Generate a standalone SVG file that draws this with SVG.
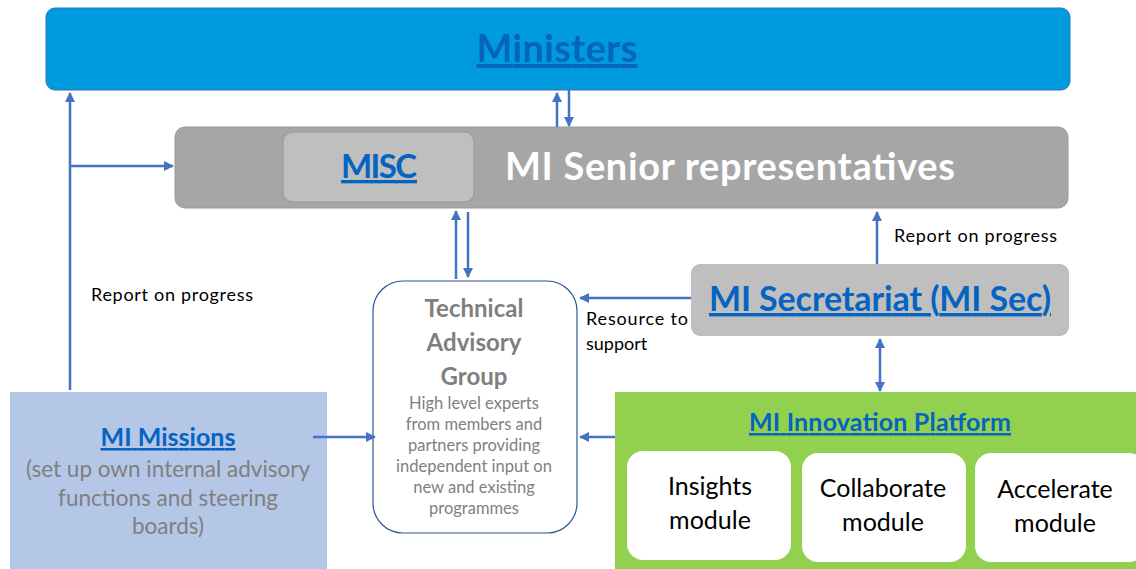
<svg xmlns="http://www.w3.org/2000/svg" width="1136" height="569" viewBox="0 0 1136 569">
<defs>
<marker id="ah" viewBox="0 0 10 10" refX="9" refY="5" markerWidth="4" markerHeight="4" orient="auto-start-reverse" markerUnits="strokeWidth">
<path d="M0,0 L10,5 L0,10 Z" fill="#4472C4"/>
</marker>
<style>
text{font-family:Lato,"Open Sans","Liberation Sans",sans-serif}
.conn{stroke:#4472C4;stroke-width:2.5;fill:none}
.link{fill:#0563C1;font-weight:bold;text-decoration:underline;text-anchor:middle}
.lbl{fill:#000;font-size:18px}
.gray{fill:#7F7F7F;text-anchor:middle}
.mod{fill:#000;font-size:25px;text-anchor:middle}
</style>
</defs>
<rect width="1136" height="569" fill="#fff"/>
<g id="ministers">
<rect x="46" y="8" width="1024" height="82" rx="9" fill="#009ADE" stroke="#2E75B6" stroke-width="1"/>
<text class="link" x="557" y="62" font-size="38" textLength="161">Ministers</text>
</g>
<g id="senior">
<rect x="175" y="127" width="893" height="81" rx="10" fill="#A6A6A6" stroke="#999" stroke-width="1"/>
<text x="505" y="180" font-size="38" font-weight="bold" fill="#fff" textLength="450">MI Senior representatives</text>
</g>
<g id="misc">
<rect x="283" y="132" width="191" height="70" rx="10" fill="#BFBFBF" stroke="#999" stroke-width="1"/>
<text class="link" x="379" y="178" font-size="33" textLength="76">MISC</text>
</g>
<g id="tag">
<rect x="373" y="281" width="204" height="252" rx="30" fill="#fff" stroke="#2F5597" stroke-width="1.2"/>
<text class="gray" x="474" y="317" font-size="24" font-weight="bold">Technical</text>
<text class="gray" x="474" y="351" font-size="24" font-weight="bold">Advisory</text>
<text class="gray" x="474" y="385" font-size="24" font-weight="bold">Group</text>
<text class="gray" x="474" y="409" font-size="16.5">High level experts</text>
<text class="gray" x="474" y="430" font-size="16.5">from members and</text>
<text class="gray" x="474" y="451" font-size="16.5">partners providing</text>
<text class="gray" x="474" y="472" font-size="16.5">independent input on</text>
<text class="gray" x="474" y="493" font-size="16.5">new and existing</text>
<text class="gray" x="474" y="514" font-size="16.5">programmes</text>
</g>
<g id="secretariat">
<rect x="691" y="264" width="378" height="72" rx="9" fill="#BFBFBF"/>
<text class="link" x="880" y="311" font-size="34" textLength="342">MI Secretariat (MI Sec)</text>
</g>
<g id="missions">
<rect x="10" y="392" width="317" height="177" fill="#B4C7E7"/>
<text class="link" x="168" y="446" font-size="25" textLength="135">MI Missions</text>
<text class="gray" x="168" y="477" font-size="22.5">(set up own internal advisory</text>
<text class="gray" x="168" y="506" font-size="22.5">functions and steering</text>
<text class="gray" x="168" y="534" font-size="22.5">boards)</text>
</g>
<g id="platform">
<rect x="615" y="392" width="521" height="177" fill="#92D050"/>
<text class="link" x="880" y="431" font-size="25" textLength="262">MI Innovation Platform</text>
</g>
<g id="insights">
<rect x="627" y="451" width="164" height="109" rx="16" fill="#fff"/>
<text class="mod" x="710" y="495">Insights</text>
<text class="mod" x="710" y="529">module</text>
</g>
<g id="collaborate">
<rect x="802" y="453" width="164" height="109" rx="16" fill="#fff"/>
<text class="mod" x="883" y="497">Collaborate</text>
<text class="mod" x="883" y="531">module</text>
</g>
<g id="accelerate">
<rect x="975" y="453" width="170" height="109" rx="16" fill="#fff"/>
<text class="mod" x="1055" y="498">Accelerate</text>
<text class="mod" x="1055" y="532">module</text>
</g>
<g id="connectors">
<path class="conn" d="M557,127 V93" marker-end="url(#ah)"/>
<path class="conn" d="M569,90 V126" marker-end="url(#ah)"/>
<path class="conn" d="M70,390 V93" marker-end="url(#ah)"/>
<path class="conn" d="M70,166 H173" marker-end="url(#ah)"/>
<path class="conn" d="M456,279 V211" marker-end="url(#ah)"/>
<path class="conn" d="M468,212 V277" marker-end="url(#ah)"/>
<path class="conn" d="M877,264 V212" marker-end="url(#ah)"/>
<path class="conn" d="M691,298 H580" marker-end="url(#ah)"/>
<path class="conn" d="M880,339 V391" marker-start="url(#ah)" marker-end="url(#ah)"/>
<path class="conn" d="M313,437 H375" marker-end="url(#ah)"/>
<path class="conn" d="M615,437 H580" marker-end="url(#ah)"/>
</g>
<g id="labels">
<text class="lbl" x="91" y="301" textLength="162">Report on progress</text>
<text class="lbl" x="894" y="242" textLength="163">Report on progress</text>
<text class="lbl" x="586" y="325" textLength="102">Resource to</text>
<text class="lbl" x="586" y="350">support</text>
</g>
</svg>
